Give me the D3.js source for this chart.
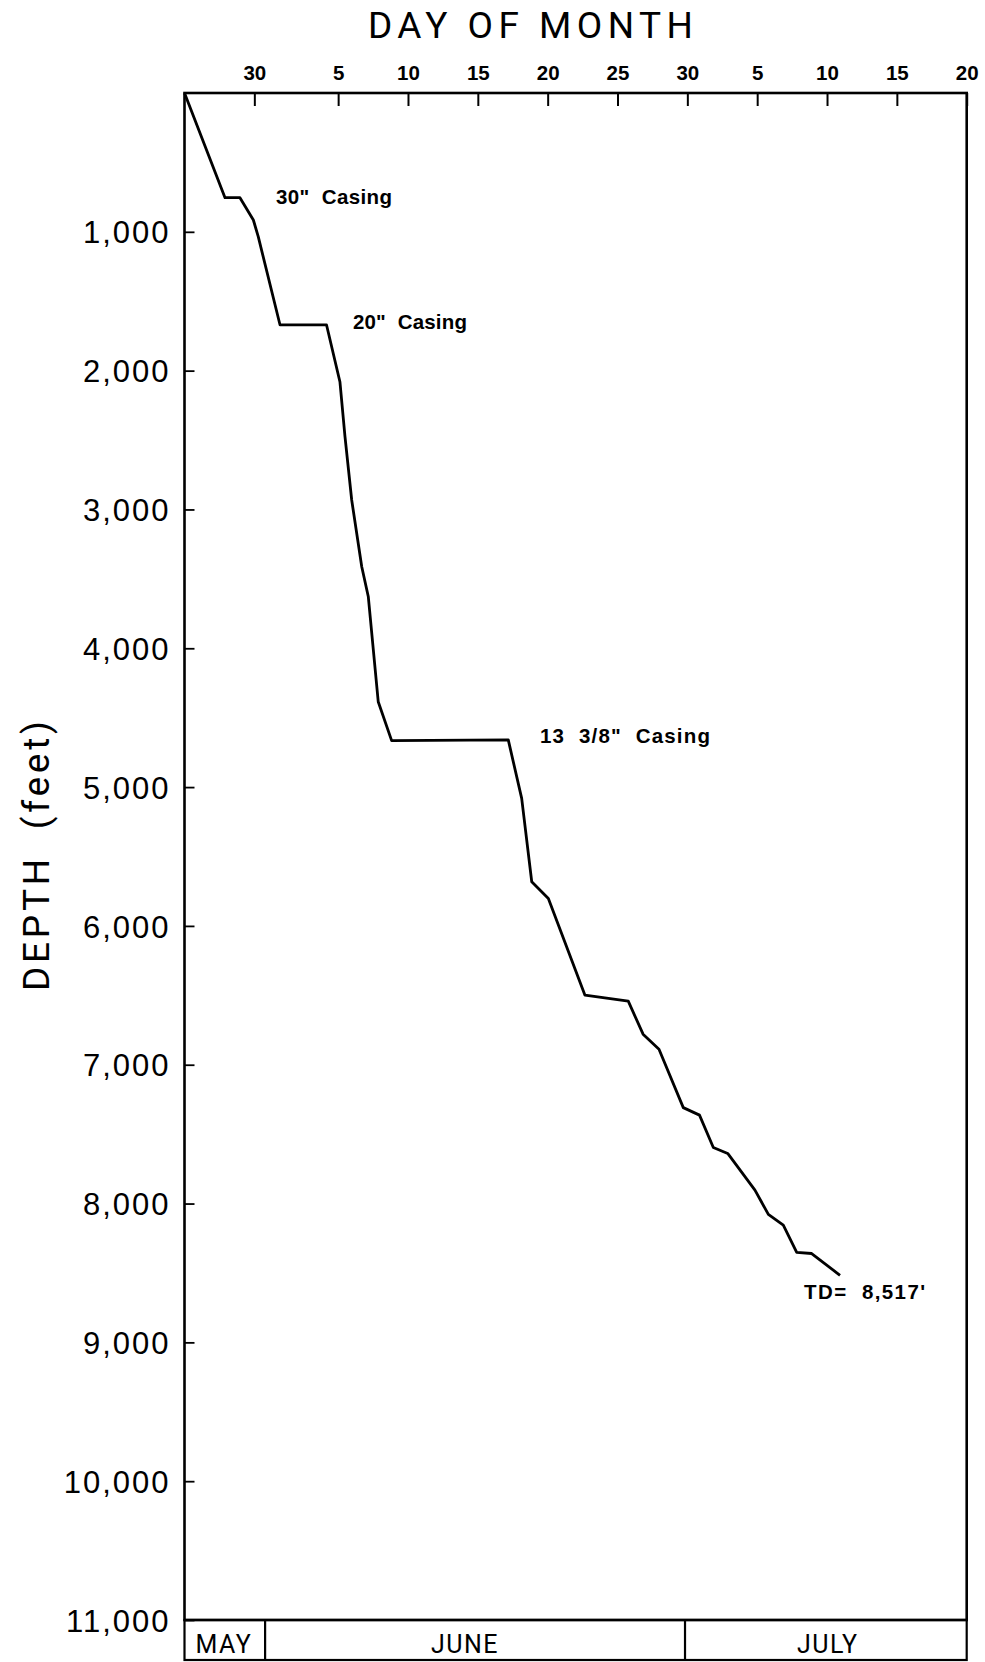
<!DOCTYPE html>
<html>
<head>
<meta charset="utf-8">
<script src="https://cdn.jsdelivr.net/npm/d3@7/dist/d3.min.js"></script>
<style>
  html, body { margin: 0; padding: 0; background: #fff; }
  svg { display: block; }
  .thin { font-family: Roboto, "Liberation Sans", Arial, sans-serif; font-weight: 400; fill: #000; }
  .bold { font-family: "Liberation Sans", Arial, sans-serif; font-weight: 700; fill: #000; white-space: pre; }
  .ylab text { font-family: "Liberation Sans", Arial, sans-serif; font-size: 31px; letter-spacing: 2px; fill: #000; }
</style>
</head>
<body>
<script>
// ---------------- data ----------------
const spudDate = "1984-05-25";
// elapsed days since spud, and measured depth (feet)
const elapsedDays = [0, 2.90, 3.97, 4.93, 5.28, 6.84, 10.17, 11.13, 11.49, 11.97, 12.69, 13.16, 13.87, 14.83,
  23.18, 24.14, 24.86, 26.05, 28.67, 31.77, 32.83, 33.97, 35.71, 36.87, 37.86, 38.89, 40.84, 41.80, 42.87,
  43.83, 44.90, 46.93];
const depthFeet = [0, 754, 754, 915, 1035, 1671, 1671, 2082, 2476, 2932, 3413, 3629, 4385, 4665,
  4660, 5081, 5682, 5802, 6499, 6542, 6780, 6888, 7309, 7363, 7596, 7639, 7903, 8078, 8156,
  8352, 8360, 8517];

const axisStart = "1984-05-25";
const axisEnd = "1984-07-20";
const tickDates = ["1984-05-30", "1984-06-05", "1984-06-10", "1984-06-15", "1984-06-20", "1984-06-25",
  "1984-06-30", "1984-07-05", "1984-07-10", "1984-07-15", "1984-07-20"];
const depthTicks = [1000, 2000, 3000, 4000, 5000, 6000, 7000, 8000, 9000, 10000, 11000];
const monthNames = ["MAY", "JUNE", "JULY"];
const monthBounds = ["1984-05-30T18:30Z", "1984-06-29T20:00Z"];
const annoText = ['30"  Casing', '20"  Casing', '13  3/8"  Casing', "TD=  8,517'"];

(function () {
// ---------------- layout ----------------
const W = 985, H = 1662;
const pL = 184.5, pR = 966.7, pT = 93, pB = 1620, boxB = 1660;

const svg = d3.select("body").append("svg").attr("width", W).attr("height", H);

const x = d3.scaleUtc()
  .domain([new Date(axisStart + "T00:00Z"), new Date(axisEnd + "T00:00Z")])
  .range([pL, pR]);
const y = d3.scaleLinear().domain([0, 11000]).range([pT, pB]);

const DAY = 86400000;
const spud = new Date(spudDate + "T00:00Z").getTime();
const pts = elapsedDays.map((d, i) => ({ t: new Date(spud + d * DAY), v: depthFeet[i] }));

// frame
svg.append("rect")
  .attr("x", pL).attr("y", pT).attr("width", pR - pL).attr("height", pB - pT)
  .attr("fill", "none").attr("stroke", "#000").attr("stroke-width", 2.6);

// top axis (ticks pointing inward)
const xAxis = d3.axisTop(x)
  .tickValues(tickDates.map(s => new Date(s + "T00:00Z")))
  .tickFormat(d3.utcFormat("%-d"))
  .tickSize(-13).tickPadding(13);
const gx = svg.append("g").attr("transform", `translate(0,${pT})`).call(xAxis);
gx.select(".domain").remove();
gx.selectAll(".tick line").attr("stroke", "#000").attr("stroke-width", 2);
gx.selectAll(".tick text")
  .attr("font-family", '"Liberation Sans", Arial, sans-serif')
  .attr("font-weight", 700).attr("font-size", 20.5).attr("fill", "#000");

// left axis
const yAxis = d3.axisLeft(y)
  .tickValues(depthTicks)
  .tickFormat(d3.format(","))
  .tickSize(-10).tickPadding(14);
const gy = svg.append("g").attr("class", "ylab").attr("transform", `translate(${pL},0)`).call(yAxis);
gy.select(".domain").remove();
gy.selectAll(".tick line").attr("stroke", "#000").attr("stroke-width", 1.8);
gy.selectAll(".tick text").attr("dy", "0.36em");

// month boxes
const bounds = [x.domain()[0], ...monthBounds.map(s => new Date(s)), x.domain()[1]];
const labelShift = [-1, -10, 2];
svg.append("rect")
  .attr("x", pL).attr("y", pB).attr("width", pR - pL).attr("height", boxB - pB)
  .attr("fill", "none").attr("stroke", "#000").attr("stroke-width", 2.2);
svg.selectAll(".msep").data(monthBounds).enter().append("line")
  .attr("x1", d => x(new Date(d))).attr("x2", d => x(new Date(d)))
  .attr("y1", pB).attr("y2", boxB)
  .attr("stroke", "#000").attr("stroke-width", 2.2);
svg.selectAll(".mlab").data(monthNames).enter().append("text")
  .attr("class", "thin")
  .attr("x", (d, i) => (x(bounds[i]) + x(bounds[i + 1])) / 2 + labelShift[i])
  .attr("y", 1653)
  .attr("text-anchor", "middle")
  .attr("font-size", 25).attr("letter-spacing", 1.5)
  .text(d => d);

// drilling curve
const line = d3.line().x(d => x(d.t)).y(d => y(d.v));
svg.append("path").datum(pts)
  .attr("d", line)
  .attr("fill", "none").attr("stroke", "#000").attr("stroke-width", 2.8)
  .attr("stroke-linejoin", "round");

// annotations (anchored in data space: elapsed day, depth)
const annoLayout = [
  { d: 6.55, v: 800, len: 116 },
  { d: 12.06, v: 1700, len: 114 },
  { d: 25.45, v: 4680, len: 170 },
  { d: 44.36, v: 8690, len: 121 }
];
svg.selectAll(".anno").data(annoText).enter().append("text")
  .attr("class", "bold")
  .attr("x", (d, i) => x(new Date(spud + annoLayout[i].d * DAY)))
  .attr("y", (d, i) => y(annoLayout[i].v))
  .attr("font-size", 20.5)
  .attr("textLength", (d, i) => annoLayout[i].len)
  .attr("lengthAdjust", "spacing")
  .text(d => d);

// titles
svg.append("text").attr("class", "thin")
  .attr("x", 530.5).attr("y", 38).attr("text-anchor", "middle")
  .attr("font-size", 37)
  .attr("textLength", 325).attr("lengthAdjust", "spacing")
  .text("DAY OF MONTH");

svg.append("text").attr("class", "thin")
  .attr("transform", "translate(49,856) rotate(-90)")
  .attr("text-anchor", "middle")
  .attr("font-size", 37)
  .attr("textLength", 270).attr("lengthAdjust", "spacing")
  .style("white-space", "pre")
  .text("DEPTH  (feet)");
})();
</script>
</body>
</html>
